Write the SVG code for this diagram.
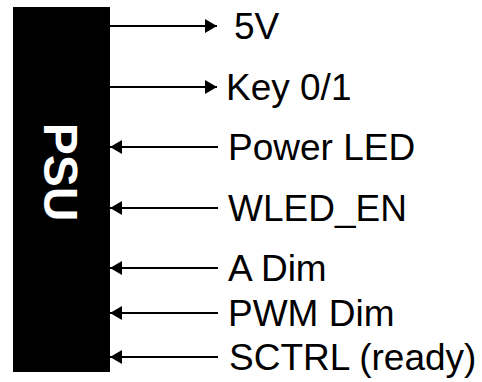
<svg xmlns="http://www.w3.org/2000/svg" width="482" height="382" viewBox="0 0 482 382">
<style>
.lbl{font-family:"Liberation Sans",Arial,sans-serif;font-size:37px;fill:#000}
.psu{font-family:"Liberation Sans",Arial,sans-serif;font-size:48px;font-weight:bold;fill:#fff}
.wire{stroke:#000;stroke-width:2;fill:none;marker-end:url(#ah)}
</style>
<defs>
<marker id="ah" markerUnits="userSpaceOnUse" markerWidth="12" markerHeight="14" refX="12" refY="7" orient="auto">
<path d="M0,0 L12,7 L0,14 z" fill="#000"/>
</marker>
</defs>
<rect width="482" height="382" fill="#fff"/>
<g id="psu">
<rect x="13" y="7" width="97" height="365" fill="#000"/>
<text class="psu" transform="translate(44,172) rotate(90)" text-anchor="middle">PSU</text>
</g>
<g id="connectors">
<line class="wire" x1="110" y1="26" x2="217" y2="26"/>
<line class="wire" x1="110" y1="87" x2="217" y2="87"/>
<line class="wire" x1="218" y1="147" x2="110" y2="147"/>
<line class="wire" x1="218" y1="208" x2="110" y2="208"/>
<line class="wire" x1="218" y1="268" x2="110" y2="268"/>
<line class="wire" x1="218" y1="313" x2="110" y2="313"/>
<line class="wire" x1="218" y1="357" x2="110" y2="357"/>
</g>
<g id="label-5v"><text class="lbl" x="234" y="39">5V</text></g>
<g id="label-key"><text class="lbl" x="226" y="100">Key 0/1</text></g>
<g id="label-powerled"><text class="lbl" x="228" y="160">Power LED</text></g>
<g id="label-wled"><text class="lbl" x="228" y="221">WLED_EN</text></g>
<g id="label-adim"><text class="lbl" x="228" y="281">A Dim</text></g>
<g id="label-pwm"><text class="lbl" x="228" y="326">PWM Dim</text></g>
<g id="label-sctrl"><text class="lbl" x="229" y="370">SCTRL (ready)</text></g>
</svg>
